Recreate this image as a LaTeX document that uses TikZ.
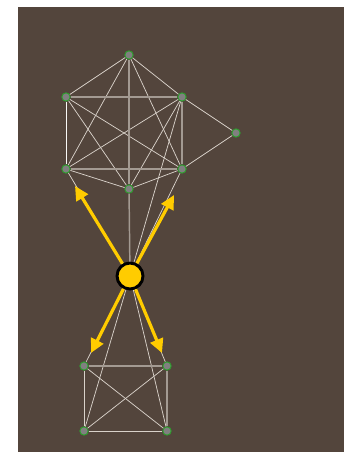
\documentclass[tikz,border=0pt]{standalone}
\usetikzlibrary{arrows.meta}
\definecolor{bgbrown}{HTML}{53453C}
\definecolor{nodegray}{HTML}{808080}
\definecolor{nodegreen}{HTML}{2CA02C}
\definecolor{hubyellow}{HTML}{FFCC00}
\definecolor{linkpale}{HTML}{D9D2CA}
\definecolor{linkgray}{HTML}{A39A92}
\begin{document}
\begin{tikzpicture}[x=0.75pt, y=-0.75pt,
  vert/.style={circle,draw=nodegreen,fill=nodegray,line width=0.7pt,minimum size=6.2pt,inner sep=0pt},
  hub/.style={circle,draw=black,fill=hubyellow,line width=2.2pt,minimum size=19.5pt,inner sep=0pt},
  link/.style={draw=linkpale,line width=0.55pt},
  heavy/.style={draw=linkgray,line width=1.1pt},
  force/.style={draw=hubyellow,line width=2.4pt,-{Triangle[length=10.5pt,width=10pt]}}]
\useasboundingbox (0,0) rectangle (344,452);
\fill[bgbrown] (18,7) rectangle (344,452);
% upper cluster
\node[vert] (t) at (129,55) {};
\node[vert] (ul) at (66,97) {};
\node[vert] (ur) at (182,97) {};
\node[vert] (ll) at (66,169) {};
\node[vert] (lr) at (182,169) {};
\node[vert] (b) at (129,189) {};
\node[vert] (e) at (236,133) {};
% lower cluster
\node[vert] (sul) at (84,366) {};
\node[vert] (sur) at (167,366) {};
\node[vert] (sll) at (84,431) {};
\node[vert] (slr) at (167,431) {};
\node[hub] (c) at (130,276) {};
% tips of the force arrows
\coordinate (fll) at (75,186);
\coordinate (flr) at (174,195);
\coordinate (fsul) at (91,353);
\coordinate (fsur) at (162,353);
% links
\foreach \a/\b in {t/ul,t/ur,t/ll,t/lr,ul/lr,ul/b,ur/ll,ur/b,ll/b,lr/b,ur/e,lr/e,c/ur,c/lr,c/ll,
  sul/slr,sur/sll,sul/sll,sll/slr,c/sul,c/sur,c/sll,c/slr}
  \draw[link] (\a) -- (\b);
\draw[link,draw=white!85!linkpale] (ul) -- (ll);
\foreach \a/\b in {t/b,ul/ur,ur/lr,ll/lr,c/b,sul/sur,sur/slr}
  \draw[heavy] (\a) -- (\b);
% forces
\draw[force] (c) -- (fll);
\draw[force] (c) -- (flr);
\draw[force] (c) -- (fsul);
\draw[force] (c) -- (fsur);
\end{tikzpicture}
\end{document}
